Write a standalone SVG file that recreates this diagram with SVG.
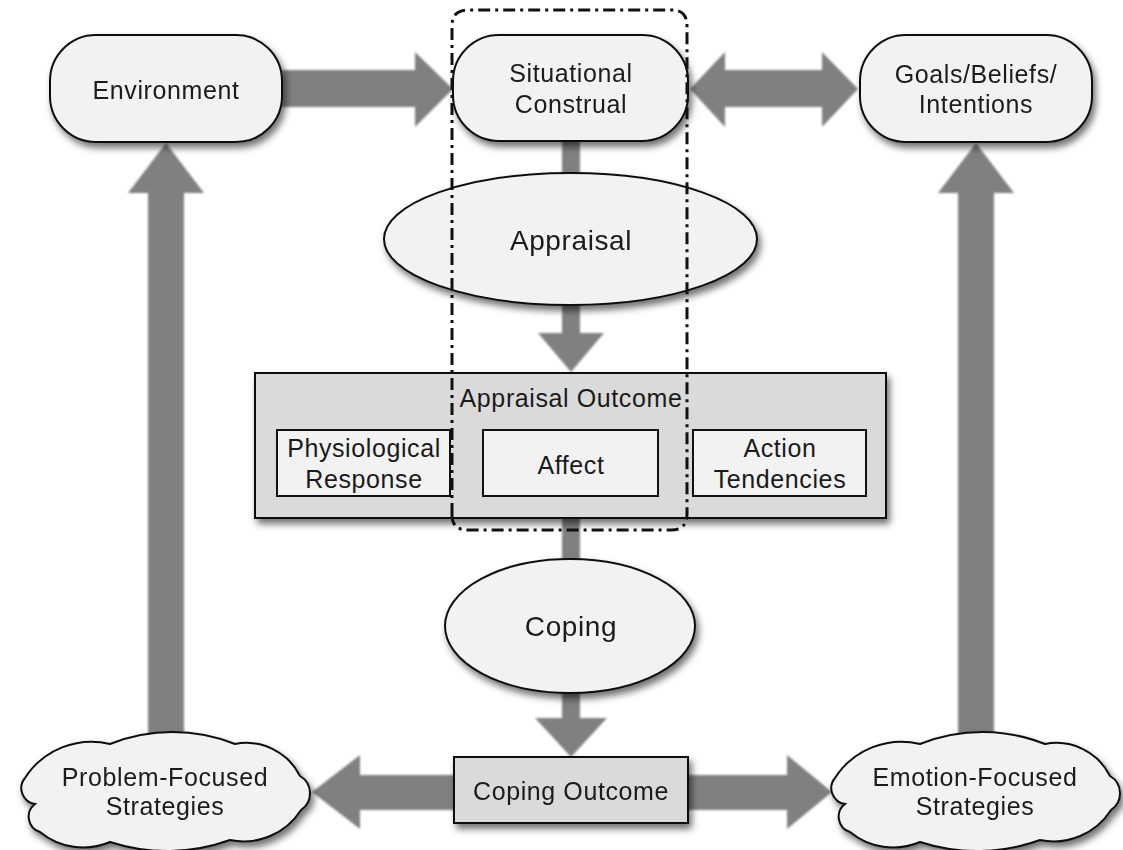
<svg xmlns="http://www.w3.org/2000/svg" width="1123" height="850" viewBox="0 0 1123 850">
  <defs>
    <filter id="shadow" x="-20%" y="-30%" width="140%" height="170%">
      <feGaussianBlur in="SourceAlpha" stdDeviation="3.5"/>
      <feOffset dx="3" dy="5" result="blur"/>
      <feFlood flood-color="#000" flood-opacity="0.55"/>
      <feComposite in2="blur" operator="in"/>
      <feMerge>
        <feMergeNode/>
        <feMergeNode in="SourceGraphic"/>
      </feMerge>
    </filter>
    <filter id="soft" x="-10%" y="-10%" width="120%" height="120%">
      <feGaussianBlur stdDeviation="0.8"/>
    </filter>
    <!-- cloud outline centred on the origin -->
    <path id="cloud" d="M -140 -14
      A 79 79 0 0 1 -55 -48
      A 169 169 0 0 1 70 -48
      A 60 60 0 0 1 135 -16
      A 20 20 0 0 1 136 18
      A 68 68 0 0 1 65 48
      A 185 185 0 0 1 -55 50
      A 68 68 0 0 1 -125 40
      A 16 16 0 0 1 -130 12
      A 16 16 0 0 1 -140 -14 Z"/>
  </defs>
  <style>
    .arrow { fill: #808080; }
    .node { fill: #f2f2f2; stroke: #111; stroke-width: 2; }
    .outcome { fill: #dadada; stroke: #111; stroke-width: 2; }
    .inner { fill: #f2f2f2; stroke: #111; stroke-width: 2; }
    .label { font-family: "Liberation Sans", Arial, sans-serif; font-size: 25px; fill: #1a1a1a; text-anchor: middle; letter-spacing: 0.6px; }
    .big { font-size: 28px; }
    .boundary { fill: none; stroke: #111; stroke-width: 3; stroke-dasharray: 12 5 3 5; }
  </style>

  <rect width="1123" height="850" fill="#ffffff"/>

  <!-- connectors -->
  <g id="connectors" filter="url(#soft)">
    <!-- Environment to Situational Construal -->
    <polygon class="arrow" points="282,70 415,70 415,52 453,89 415,127 415,107 282,107"/>
    <!-- Situational Construal and Goals/Beliefs/Intentions, both ways -->
    <polygon class="arrow" points="690,89 725,52 725,70 822,70 822,52 858,89 822,127 822,107 725,107 725,127"/>
    <!-- Problem-Focused Strategies up to Environment -->
    <polygon class="arrow" points="148,745 148,193 128,193 166,143 204,193 184,193 184,745"/>
    <!-- Emotion-Focused Strategies up to Goals -->
    <polygon class="arrow" points="958,745 958,193 938,193 976,143 1014,193 994,193 994,745"/>
    <!-- Situational Construal to Appraisal -->
    <rect class="arrow" x="562" y="135" width="18" height="45"/>
    <!-- Appraisal to Appraisal Outcome -->
    <polygon class="arrow" points="562,298 580,298 580,333 604,333 571,372 538,333 562,333"/>
    <!-- Appraisal Outcome to Coping -->
    <rect class="arrow" x="562" y="515" width="18" height="50"/>
    <!-- Coping to Coping Outcome -->
    <polygon class="arrow" points="562,688 580,688 580,718 607,718 571,757 535,718 562,718"/>
    <!-- Coping Outcome to Problem-Focused Strategies -->
    <polygon class="arrow" points="456,775 360,775 360,755 312,792 360,829 360,810 456,810"/>
    <!-- Coping Outcome to Emotion-Focused Strategies -->
    <polygon class="arrow" points="686,775 787,775 787,755 832,792 787,829 787,810 686,810"/>
  </g>

  <g id="environment" filter="url(#shadow)">
    <rect class="node" x="50" y="35" width="232" height="107" rx="46" ry="46"/>
    <text class="label" x="166" y="99">Environment</text>
  </g>

  <g id="situational-construal" filter="url(#shadow)">
    <rect class="node" x="453" y="35" width="235" height="106" rx="46" ry="46"/>
    <text class="label" x="571" y="82">Situational</text>
    <text class="label" x="571" y="113">Construal</text>
  </g>

  <g id="goals" filter="url(#shadow)">
    <rect class="node" x="860" y="35" width="232" height="107" rx="46" ry="46"/>
    <text class="label" x="976" y="83">Goals/Beliefs/</text>
    <text class="label" x="976" y="113">Intentions</text>
  </g>

  <g id="appraisal" filter="url(#shadow)">
    <ellipse class="node" cx="570.5" cy="239" rx="186.5" ry="66"/>
    <text class="label big" x="571" y="250">Appraisal</text>
  </g>

  <g id="appraisal-outcome">
    <rect class="outcome" x="255" y="373" width="631" height="145" filter="url(#shadow)"/>
    <text class="label" x="571" y="407">Appraisal Outcome</text>
    <g id="physiological-response">
      <rect class="inner" x="277" y="430" width="173" height="66"/>
      <text class="label" x="364" y="457">Physiological</text>
      <text class="label" x="364" y="488">Response</text>
    </g>
    <g id="affect">
      <rect class="inner" x="483" y="430" width="175" height="66"/>
      <text class="label" x="571" y="474">Affect</text>
    </g>
    <g id="action-tendencies">
      <rect class="inner" x="693" y="430" width="173" height="66"/>
      <text class="label" x="780" y="457">Action</text>
      <text class="label" x="780" y="488">Tendencies</text>
    </g>
  </g>

  <g id="coping" filter="url(#shadow)">
    <ellipse class="node" cx="570" cy="626" rx="125" ry="67"/>
    <text class="label big" x="571" y="636">Coping</text>
  </g>

  <g id="coping-outcome" filter="url(#shadow)">
    <rect class="outcome" x="454" y="757" width="234" height="66"/>
    <text class="label" x="571" y="800">Coping Outcome</text>
  </g>

  <g id="problem-focused" filter="url(#shadow)">
    <use href="#cloud" class="node" transform="translate(165 792)"/>
    <text class="label" x="165" y="786">Problem-Focused</text>
    <text class="label" x="165" y="815">Strategies</text>
  </g>

  <g id="emotion-focused" filter="url(#shadow)">
    <use href="#cloud" class="node" transform="translate(975 792)"/>
    <text class="label" x="975" y="786">Emotion-Focused</text>
    <text class="label" x="975" y="815">Strategies</text>
  </g>

  <!-- dash-dot boundary around the appraisal pathway -->
  <g id="appraisal-boundary">
    <path class="boundary" d="M 452 515 L 452 26 Q 452 10 468 10 L 672 10 Q 687 10 687 26 L 687 514 Q 687 530 671 530 L 468 530 Q 452 530 452 515 Z"/>
  </g>
</svg>
